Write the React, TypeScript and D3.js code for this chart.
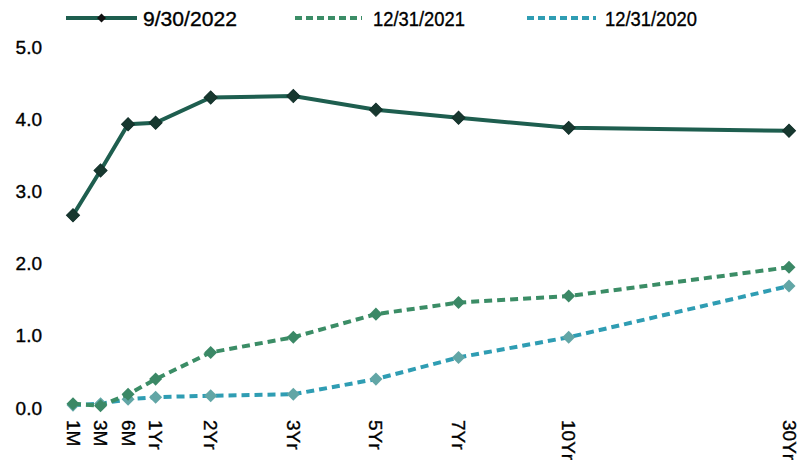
import React from "react";
import * as d3 from "d3";

const categories = ["1M", "3M", "6M", "1Yr", "2Yr", "3Yr", "5Yr", "7Yr", "10Yr", "30Yr"];
// axis position of each maturity category (category units along x-axis)
const categoryPos = [0, 1, 2, 3, 5, 8, 11, 14, 18, 26];
const yTicks = [0, 1, 2, 3, 4, 5];

const series2022 = [2.67, 3.29, 3.93, 3.95, 4.3, 4.32, 4.13, 4.02, 3.88, 3.84];
const series2021 = [0.06, 0.03, 0.19, 0.4, 0.77, 0.98, 1.3, 1.46, 1.55, 1.95];
const series2020 = [0.04, 0.06, 0.12, 0.15, 0.17, 0.19, 0.4, 0.7, 0.98, 1.69];

const seriesNames = ["9/30/2022", "12/31/2021", "12/31/2020"];

const W = 799;
const H = 467;

export default function App() {
  const x = d3.scaleLinear().domain([0, 26]).range([73, 789]);
  const y = d3.scaleLinear().domain([0, 5]).range([408, 47]);

  const defs = [
    { name: seriesNames[0], values: series2022, color: "#1e5e4f", marker: "#17382f", dash: undefined as string | undefined, width: 4 },
    { name: seriesNames[1], values: series2021, color: "#3b8d66", marker: "#3b8866", dash: "8,5", width: 4 },
    { name: seriesNames[2], values: series2020, color: "#2f9db3", marker: "#62a6a6", dash: "8,5", width: 4 },
  ];

  const line = d3
    .line<number>()
    .x((_, i) => x(categoryPos[i]))
    .y((d) => y(d));

  const diamond = d3.symbol().type(d3.symbolSquare).size(85)();

  const font = "'Liberation Sans', Arial, sans-serif";
  const textStroke = { stroke: "#000", strokeWidth: 0.35 };

  const legendItems = [
    { x0: 66, x1: 137, tx: 143, tl: 94 },
    { x0: 295, x1: 362, tx: 373, tl: 92 },
    { x0: 527, x1: 596, tx: 605, tl: 92 },
  ];

  return (
    <svg width={W} height={H} style={{ position: "absolute", left: 0, top: 0, background: "#fff" }}>
      <rect width={W} height={H} fill="#fff" />
      {/* y ticks */}
      {yTicks.map((t) => (
        <text
          key={t}
          x={42}
          y={y(t)}
          textAnchor="end"
          dominantBaseline="central"
          fontFamily={font}
          fontSize={19}
          fill="#000"
          {...textStroke}
        >
          {d3.format(".1f")(t)}
        </text>
      ))}
      {/* x labels */}
      {categories.map((c, i) => (
        <text
          key={c}
          transform={`translate(${x(categoryPos[i])},${420}) rotate(90)`}
          textAnchor="start"
          dominantBaseline="central"
          fontFamily={font}
          fontSize={19}
          fill="#000"
          {...textStroke}
        >
          {c}
        </text>
      ))}
      {/* series, draw oldest first */}
      {[...defs].reverse().map((s) => (
        <g key={s.name}>
          <path
            d={line(s.values) || ""}
            fill="none"
            stroke={s.color}
            strokeWidth={s.width}
            strokeDasharray={s.dash}
            strokeLinecap="butt"
          />
          {s.values.map((v, i) => (
            <path
              key={i}
              d={diamond}
              transform={`translate(${x(categoryPos[i])},${y(v)}) rotate(45)`}
              fill={s.marker}
              stroke={s.name === seriesNames[0] ? "#12302a" : "none"}
              strokeWidth={1}
            />
          ))}
        </g>
      ))}
      {/* legend */}
      {defs.map((s, i) => {
        const li = legendItems[i];
        const ly = 18;
        return (
          <g key={s.name}>
            <line
              x1={li.x0}
              x2={li.x1}
              y1={ly}
              y2={ly}
              stroke={s.color}
              strokeWidth={4}
              strokeDasharray={s.dash ? "7,4" : undefined}
            />
            {i === 0 && (
              <path
                d={d3.symbol().type(d3.symbolSquare).size(40)() || ""}
                transform={`translate(${(li.x0 + li.x1) / 2},${ly}) rotate(45)`}
                fill="#111"
              />
            )}
            <text
              x={li.tx}
              y={ly}
              dominantBaseline="central"
              fontFamily={font}
              fontSize={21}
              textLength={li.tl}
              lengthAdjust="spacingAndGlyphs"
              fill="#000"
              {...textStroke}
            >
              {s.name}
            </text>
          </g>
        );
      })}
    </svg>
  );
}
